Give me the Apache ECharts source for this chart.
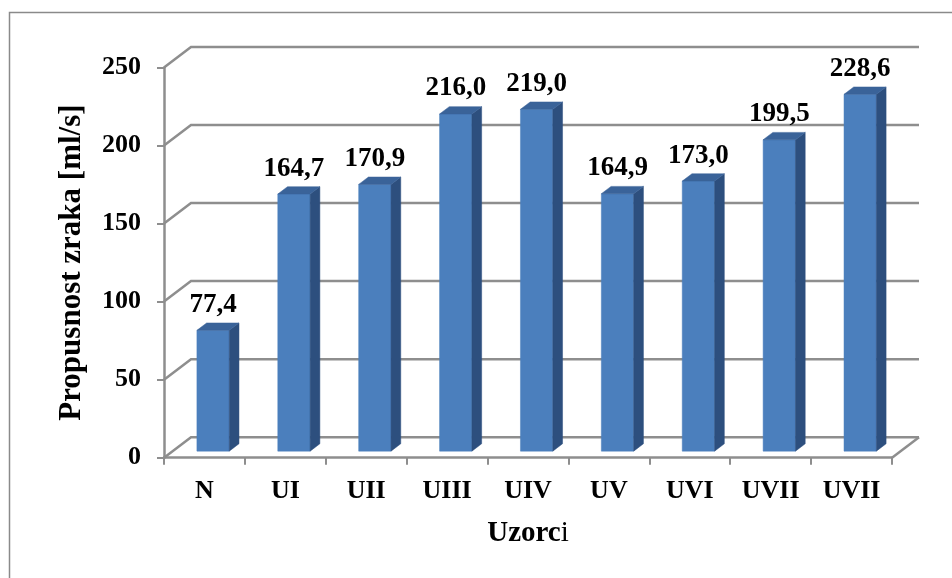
<!DOCTYPE html>
<html>
<head>
<meta charset="utf-8">
<script src="https://cdn.jsdelivr.net/npm/echarts@6/dist/echarts.min.js"></script>
<style>
html,body{margin:0;padding:0;background:#fff;}
#chart{width:952px;height:578px;}
</style>
</head>
<body>
<div id="chart"></div>
<script>
const categories = ['N', 'UI', 'UII', 'UIII', 'UIV', 'UV', 'UVI', 'UVII', 'UVII'];
const values = [77.4, 164.7, 170.9, 216.0, 219.0, 164.9, 173.0, 199.5, 228.6];
const yTicks = [0, 50, 100, 150, 200, 250];
const yAxisTitle = 'Propusnost zraka [ml/s]';
const xAxisTitleBold = 'Uzorc';
const xAxisTitleTail = 'i';

const FONT = "'Liberation Serif', 'Times New Roman', serif";
const DX = 27, DY = -20.5;      // depth of the 3D box
const F1 = 0.32, F2 = 0.68;     // bar front / back depth fractions
const GRID_COLOR = '#8e8e8e';

const chart = echarts.init(document.getElementById('chart'), null, {renderer: 'canvas'});

function fmt(v) { return v.toFixed(1).replace('.', ','); }

const option = {
  backgroundColor: '#ffffff',
  animation: false,
  graphic: [{
    type: 'rect', left: 7, top: 10, z: -10,
    shape: {width: 1000, height: 1000},
    style: {fill: 'none', stroke: '#8a8a8a', lineWidth: 1.5}
  }],
  grid: {left: 164, right: 60, top: 67.5, bottom: 120.3, containLabel: false},
  xAxis: {
    type: 'category',
    data: categories,
    boundaryGap: true,
    axisLine: {show: true, lineStyle: {color: GRID_COLOR, width: 2.5}},
    axisTick: {show: true, length: 7, lineStyle: {color: GRID_COLOR, width: 2}},
    axisLabel: {margin: 21, color: '#000', fontFamily: FONT, fontWeight: 'bold', fontSize: 26, interval: 0},
    name: '{b|' + xAxisTitleBold + '}{n|' + xAxisTitleTail + '}',
    nameLocation: 'middle',
    nameGap: 61,
    nameTextStyle: {
      rich: {
        b: {fontFamily: FONT, fontWeight: 'bold', fontSize: 29, color: '#000'},
        n: {fontFamily: FONT, fontWeight: 'normal', fontSize: 29, color: '#000'}
      }
    }
  },
  yAxis: {
    type: 'value', min: 0, max: 250, interval: 50,
    splitLine: {show: false},
    axisLine: {show: true, lineStyle: {color: GRID_COLOR, width: 2.5}},
    axisTick: {show: true, length: 7, lineStyle: {color: GRID_COLOR, width: 2}},
    axisLabel: {margin: 23, color: '#000', fontFamily: FONT, fontWeight: 'bold', fontSize: 26},
    name: yAxisTitle,
    nameLocation: 'middle',
    nameRotate: 90,
    nameGap: 77,
    nameTextStyle: {fontFamily: FONT, fontWeight: 'bold', fontSize: 31, color: '#000'}
  },
  series: [
    {
      type: 'custom',
      z: 1,
      clip: false,
      silent: true,
      data: yTicks.map(v => [0, v]),
      renderItem: function (params, api) {
        const v = api.value(1);
        const cs = params.coordSys;
        const y = api.coord([0, v])[1];
        const left = cs.x, right = cs.x + cs.width;
        const style = {stroke: GRID_COLOR, lineWidth: 2.5, fill: 'none'};
        const children = [
          {type: 'polyline', shape: {points: [[left, y], [left + DX, y + DY], [right + DX, y + DY]]}, style: style}
        ];
        if (v === 0) {
          children.push({type: 'line', shape: {x1: right, y1: y, x2: right + DX, y2: y + DY}, style: style});
        }
        return {type: 'group', children: children};
      }
    },
    {
      type: 'custom',
      z: 2,
      clip: false,
      data: values.map((v, i) => [i, v]),
      renderItem: function (params, api) {
        const idx = api.value(0), v = api.value(1);
        const base = api.coord([idx, 0]);
        const top = api.coord([idx, v]);
        const bw = api.size([1, 0])[0] * 0.4;
        const x0 = base[0] - bw / 2 + F1 * DX, x1 = base[0] + bw / 2 + F1 * DX;
        const yb = base[1] + F1 * DY, yt = top[1] + F1 * DY;
        const ddx = (F2 - F1) * DX, ddy = (F2 - F1) * DY;
        return {
          type: 'group',
          children: [
            {type: 'polygon', shape: {points: [[x0, yb], [x1, yb], [x1, yt], [x0, yt]]},
              style: {fill: '#4b7fbd', stroke: '#4b7fbd', lineWidth: 0.5}},
            {type: 'polygon', shape: {points: [[x1, yb], [x1 + ddx, yb + ddy], [x1 + ddx, yt + ddy], [x1, yt]]},
              style: {fill: '#2d4f7e', stroke: '#2d4f7e', lineWidth: 0.5}},
            {type: 'polygon', shape: {points: [[x0, yt], [x1, yt], [x1 + ddx, yt + ddy], [x0 + ddx, yt + ddy]]},
              style: {fill: '#3a6399', stroke: '#3a6399', lineWidth: 0.5}},
            {type: 'text', style: {
              x: (x0 + x1) / 2, y: yt - 12, text: fmt(v),
              textAlign: 'center', textVerticalAlign: 'bottom',
              fontFamily: FONT, fontWeight: 'bold', fontSize: 27, fill: '#000'
            }}
          ]
        };
      }
    }
  ]
};
chart.setOption(option);
</script>
</body>
</html>
